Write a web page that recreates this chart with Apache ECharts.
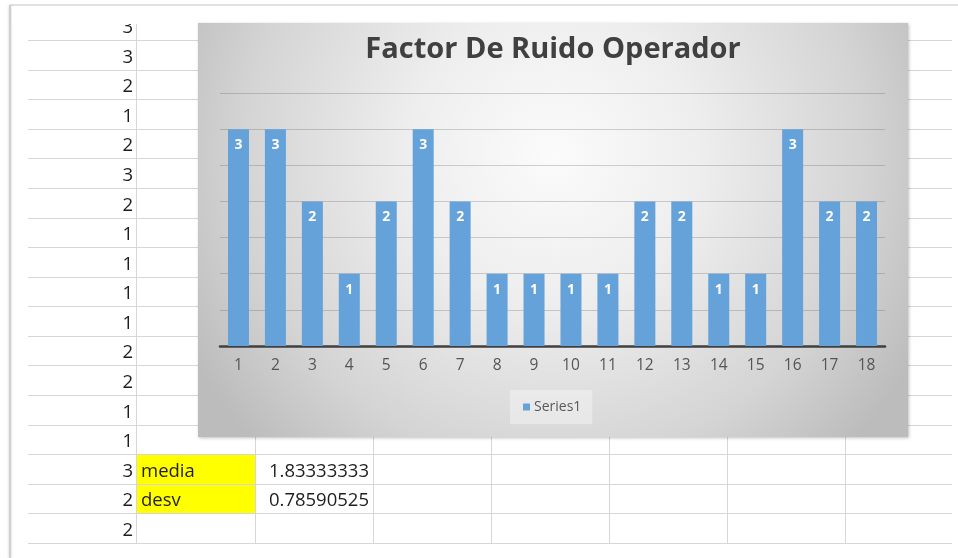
<!DOCTYPE html>
<html>
<head>
<meta charset="utf-8">
<title>Factor De Ruido Operador</title>
<script src="https://cdn.jsdelivr.net/npm/echarts@6/dist/echarts.min.js"></script>
<style>
  html, body { margin: 0; padding: 0; background: #ffffff; }
  #chart { width: 958px; height: 558px; }
</style>
</head>
<body>
<div id="chart"></div>
<script>
// Operator noise factor, one value per trial
const categories = ['1','2','3','4','5','6','7','8','9','10','11','12','13','14','15','16','17','18'];
const values = [3, 3, 2, 1, 2, 3, 2, 1, 1, 1, 1, 2, 2, 1, 1, 3, 2, 2];
const seriesName = 'Series1';
const titleText = 'Factor De Ruido Operador';
const statNames = ['media', 'desv'];

// summary statistics shown beside the data column
const n = values.length;
const mean = values.reduce((a, b) => a + b, 0) / n;
const sd = Math.sqrt(values.reduce((a, b) => a + (b - mean) * (b - mean), 0) / (n - 1));
const statValues = [mean.toFixed(8), sd.toFixed(8)];

const FONT = "'Open Sans', 'Noto Sans', sans-serif";

// worksheet layout
const rowTop = 40, rowH = 29.59, nRowLines = 18;
const sheetLeft = 28, sheetRight = 952, sheetTop = 24;
const colLines = [136, 255, 373, 491, 609, 727, 845];
const lastRowLine = rowTop + (nRowLines - 1) * rowH;
const rowCenter = i => rowTop + (i - 1) * rowH + rowH / 2 + 2.5;
const cellFont = '18.5px ' + FONT;

const g = [];
// window frame
g.push({ type: 'line', z: 0, shape: { x1: 10, y1: 5, x2: 958, y2: 5 }, style: { stroke: '#e2e2e2', lineWidth: 2 } });
g.push({ type: 'line', z: 0, shape: { x1: 10, y1: 5, x2: 10, y2: 558 }, style: { stroke: '#cfcfcf', lineWidth: 2, shadowBlur: 3, shadowColor: 'rgba(0,0,0,0.2)' } });

// yellow cells behind the stat labels
g.push({ type: 'rect', z: 0, shape: { x: colLines[0] + 1, y: rowTop + 14 * rowH, width: colLines[1] - colLines[0] - 1, height: 2 * rowH }, style: { fill: '#ffff00' } });

// row lines
for (let k = 0; k < nRowLines; k++) {
  const y = Math.round(rowTop + k * rowH) + 0.5;
  g.push({ type: 'line', z: 0, shape: { x1: sheetLeft, y1: y, x2: sheetRight, y2: y }, style: { stroke: '#d6d6d6', lineWidth: 1 } });
}
// column lines
colLines.forEach(x => {
  g.push({ type: 'line', z: 0, shape: { x1: x + 0.5, y1: sheetTop, x2: x + 0.5, y2: lastRowLine }, style: { stroke: '#d6d6d6', lineWidth: 1 } });
});

// column A: the data values
values.forEach((v, i) => {
  g.push({ type: 'text', z: 0, style: { text: String(v), x: 133, y: rowCenter(i), fill: '#1e1e1e', font: cellFont, align: 'right', textAlign: 'right', verticalAlign: 'middle', textVerticalAlign: 'middle' } });
});
// stats
statNames.forEach((name, j) => {
  const y = rowCenter(15 + j);
  g.push({ type: 'text', z: 0, style: { text: name, x: 141, y: y, fill: '#1e1e1e', font: cellFont, align: 'left', textAlign: 'left', verticalAlign: 'middle', textVerticalAlign: 'middle' } });
  g.push({ type: 'text', z: 0, style: { text: statValues[j], x: 369, y: y, fill: '#1e1e1e', font: cellFont, align: 'right', textAlign: 'right', verticalAlign: 'middle', textVerticalAlign: 'middle' } });
});
// area above the visible sheet
g.push({ type: 'rect', z: 1, shape: { x: 12, y: 7, width: 946, height: sheetTop - 7 }, style: { fill: '#ffffff' } });

// chart area background
g.push({
  type: 'rect', z: 2,
  shape: { x: 198, y: 23, width: 710, height: 414 },
  style: {
    fill: {
      type: 'radial', x: 0.5, y: 0.32, r: 1.0,
      colorStops: [
        { offset: 0, color: '#fbfbfb' },
        { offset: 0.35, color: '#eeeeee' },
        { offset: 0.75, color: '#d4d4d4' },
        { offset: 1, color: '#bcbcbc' }
      ]
    },
    shadowBlur: 3, shadowColor: 'rgba(0,0,0,0.25)', shadowOffsetX: 1, shadowOffsetY: 1
  }
});

const chart = echarts.init(document.getElementById('chart'), null, { renderer: 'canvas' });
chart.setOption({
  backgroundColor: '#ffffff',
  animation: false,
  graphic: { elements: g },
  title: {
    text: titleText,
    left: 548, top: 30, textAlign: 'center',
    z: 6,
    textStyle: { fontFamily: FONT, fontSize: 29, fontWeight: 'bold', color: '#404040' }
  },
  legend: {
    data: [seriesName],
    left: 510, top: 390,
    z: 6,
    icon: 'rect', itemWidth: 7, itemHeight: 7, itemGap: 0,
    padding: [10, 11, 10, 13],
    backgroundColor: 'rgba(255,255,255,0.35)',
    textStyle: { fontFamily: FONT, fontSize: 14, color: '#595959', padding: [0, 0, 0, -1] }
  },
  grid: { left: 220, right: 73, top: 93, bottom: 212, containLabel: false },
  xAxis: {
    type: 'category', data: categories, z: 5,
    axisLine: { lineStyle: { color: '#404040', width: 2.5 } },
    axisTick: { show: false },
    axisLabel: { fontFamily: FONT, fontSize: 15.5, color: '#555555', margin: 12 }
  },
  yAxis: {
    type: 'value', min: 0, max: 3.5, interval: 0.5, z: 5,
    axisLine: { show: false }, axisTick: { show: false }, axisLabel: { show: false },
    splitLine: { lineStyle: { color: 'rgba(60,60,60,0.22)', width: 1 } }
  },
  series: [{
    name: seriesName, type: 'bar', data: values, z: 6,
    barWidth: 21,
    itemStyle: { color: '#64a2d9' },
    label: { show: true, position: 'insideTop', distance: 9, color: '#ffffff', fontFamily: FONT, fontSize: 14, fontWeight: 'bold' }
  }]
});
</script>
</body>
</html>
